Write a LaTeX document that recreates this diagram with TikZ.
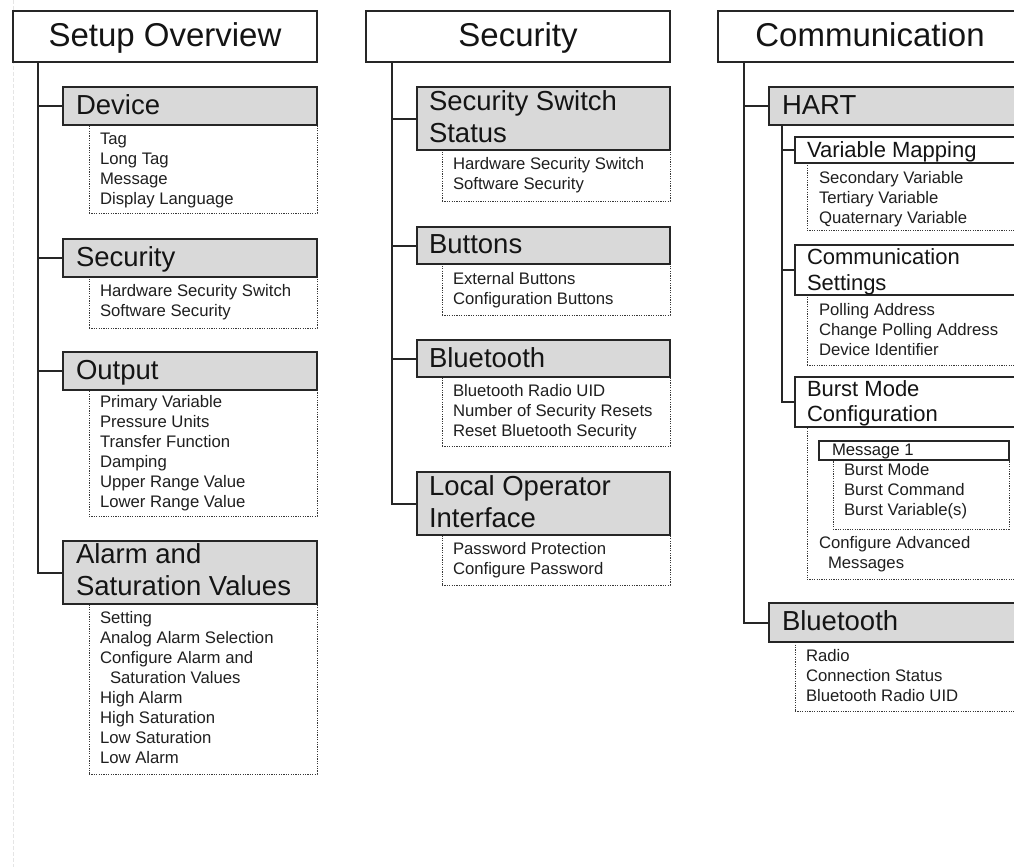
\documentclass[tikz,border=0pt]{standalone}
\usepackage{fontspec}
\setmainfont{Liberation Sans}
\tikzset{
  every node/.style={inner sep=0pt, outer sep=0pt},
  boxbase/.style={draw=black!85, line width=2pt, anchor=north west},
  titlebox/.style={boxbase, fill=white},
  hdrbox/.style={boxbase, fill=black!15},
  subbox/.style={boxbase, fill=white},
  msgbox/.style={boxbase, fill=white, line width=1.8pt},
  listbox/.style={draw=black!78, line width=1pt, dash pattern=on 1.2pt off 1.2pt, anchor=north west},
  titletext/.style={font=\fontsize{33}{38}\selectfont, text=black!92, anchor=base},
  hdrtext/.style={font=\fontsize{27.5}{32}\selectfont, text=black!92, anchor=base west},
  subtext/.style={font=\fontsize{22}{26}\selectfont, text=black!92, anchor=base west},
  msgtext/.style={font=\fontsize{16.7}{20}\selectfont, text=black!90, anchor=base west},
  itemtext/.style={font=\fontsize{16.7}{20}\selectfont, text=black!88, align=left, anchor=north west},
  conn/.style={draw=black!85, line width=2pt},
  faint/.style={draw=black!10, line width=1pt, dash pattern=on 4pt off 2pt},
}
\newcommand\bx[6]{\node[#1, minimum width=#5pt, minimum height=#6pt] (#2) at (#3,#4) {};}
\begin{document}
\begin{tikzpicture}[x=1pt, y=-1pt]
\useasboundingbox (0,0) rectangle (1014,867);
\fill[white] (0,0) rectangle (1014,867);
\clip (0,0) rectangle (1014,867);
\draw[faint] (13.5,0) -- (13.5,867);

% ---------------- Column 1: Setup Overview ----------------
\bx{titlebox}{t1}{13}{11}{304}{51}
\node[titletext] (t1x) at (165,47) {Setup Overview};
\coordinate (k1) at (38,62);

\bx{listbox}{dev-l}{89}{125}{228}{88}
\bx{hdrbox}{dev}{63}{87}{254}{38}
\node[hdrtext] (dev-t) at (76,114) {Device};
\node[itemtext] (dev-i) at (100,130) {\strut Tag\\Long Tag\\Message\\Display Language};

\bx{listbox}{sec-l}{89}{277}{228}{51}
\bx{hdrbox}{sec}{63}{239}{254}{38}
\node[hdrtext] (sec-t) at (76,266) {Security};
\node[itemtext] (sec-i) at (100,282) {\strut Hardware Security Switch\\Software Security};

\bx{listbox}{out-l}{89}{390}{228}{126}
\bx{hdrbox}{out}{63}{352}{254}{38}
\node[hdrtext] (out-t) at (76,379) {Output};
\node[itemtext] (out-i) at (100,393.5) {\strut Primary Variable\\Pressure Units\\Transfer Function\\Damping\\Upper Range Value\\Lower Range Value};

\bx{listbox}{alm-l}{89}{604}{228}{170}
\bx{hdrbox}{alm}{63}{541}{254}{63}
\node[hdrtext] (alm-t1) at (76,563) {Alarm and};
\node[hdrtext] (alm-t2) at (76,595) {Saturation Values};
\node[itemtext] (alm-i) at (100,609.5) {\strut Setting\\Analog Alarm Selection\\Configure Alarm and\\\hspace*{10pt}Saturation Values\\High Alarm\\High Saturation\\Low Saturation\\Low Alarm};

\draw[conn] (k1) |- (alm.west);
\foreach \n in {dev,sec,out} \draw[conn] (k1 |- \n.west) -- (\n.west);

% ---------------- Column 2: Security ----------------
\bx{titlebox}{t2}{366}{11}{304}{51}
\node[titletext] (t2x) at (518,47) {Security};
\coordinate (k2) at (392,62);

\bx{listbox}{sss-l}{442}{150}{228}{51}
\bx{hdrbox}{sss}{417}{87}{253}{63}
\node[hdrtext] (sss-t1) at (429,110) {Security Switch};
\node[hdrtext] (sss-t2) at (429,142) {Status};
\node[itemtext] (sss-i) at (453,155.5) {\strut Hardware Security Switch\\Software Security};

\bx{listbox}{btn-l}{442}{264}{228}{51}
\bx{hdrbox}{btn}{417}{227}{253}{37}
\node[hdrtext] (btn-t) at (429,253.5) {Buttons};
\node[itemtext] (btn-i) at (453,270) {\strut External Buttons\\Configuration Buttons};

\bx{listbox}{bts-l}{442}{377}{228}{69}
\bx{hdrbox}{bts}{417}{340}{253}{37}
\node[hdrtext] (bts-t) at (429,367) {Bluetooth};
\node[itemtext] (bts-i) at (453,382.5) {\strut Bluetooth Radio UID\\Number of Security Resets\\Reset Bluetooth Security};

\bx{listbox}{loi-l}{442}{535}{228}{50}
\bx{hdrbox}{loi}{417}{472}{253}{63}
\node[hdrtext] (loi-t1) at (429,495) {Local Operator};
\node[hdrtext] (loi-t2) at (429,527) {Interface};
\node[itemtext] (loi-i) at (453,540.5) {\strut Password Protection\\Configure Password};

\draw[conn] (k2) |- (loi.west);
\foreach \n in {sss,btn,bts} \draw[conn] (k2 |- \n.west) -- (\n.west);

% ---------------- Column 3: Communication ----------------
\bx{titlebox}{t3}{718}{11}{304}{51}
\node[titletext] (t3x) at (870,47) {Communication};
\coordinate (k3) at (744,62);

\bx{hdrbox}{hart}{769}{87}{253}{38}
\node[hdrtext] (hart-t) at (782,114) {HART};
\coordinate (k4) at (782,125);

\bx{listbox}{vm-l}{807}{163}{215}{67}
\bx{subbox}{vm}{795}{137}{227}{26}
\node[subtext] (vm-t) at (807,157) {Variable Mapping};
\node[itemtext] (vm-i) at (819,169) {\strut Secondary Variable\\Tertiary Variable\\Quaternary Variable};

\bx{listbox}{cs-l}{807}{295}{215}{70}
\bx{subbox}{cs}{795}{245}{227}{50}
\node[subtext] (cs-t1) at (807,264) {Communication};
\node[subtext] (cs-t2) at (807,290) {Settings};
\node[itemtext] (cs-i) at (819,301) {\strut Polling Address\\Change Polling Address\\Device Identifier};

\bx{listbox}{bm-l}{807}{427}{215}{152}
\bx{subbox}{bm}{795}{377}{227}{50}
\node[subtext] (bm-t1) at (807,396) {Burst Mode};
\node[subtext] (bm-t2) at (807,421) {Configuration};

\bx{listbox}{m1-l}{833}{460}{176}{69}
\bx{msgbox}{m1}{819}{441}{190}{19}
\node[msgtext] (m1-t) at (832,455) {Message 1};
\node[itemtext] (m1-i) at (844,461.5) {\strut Burst Mode\\Burst Command\\Burst Variable(s)};
\node[itemtext] (bm-i) at (819,534.3) {\strut Configure Advanced\\\hspace*{9pt}Messages};

\bx{listbox}{bt3-l}{795}{642}{227}{69}
\bx{hdrbox}{bt3}{769}{603}{253}{39}
\node[hdrtext] (bt3-t) at (782,630) {Bluetooth};
\node[itemtext] (bt3-i) at (806,647.5) {\strut Radio\\Connection Status\\Bluetooth Radio UID};

\draw[conn] (k3) |- (bt3.west);
\draw[conn] (k3 |- hart.west) -- (hart.west);
\draw[conn] (k4) |- (bm.west);
\foreach \n in {vm,cs} \draw[conn] (k4 |- \n.west) -- (\n.west);
\end{tikzpicture}
\end{document}
